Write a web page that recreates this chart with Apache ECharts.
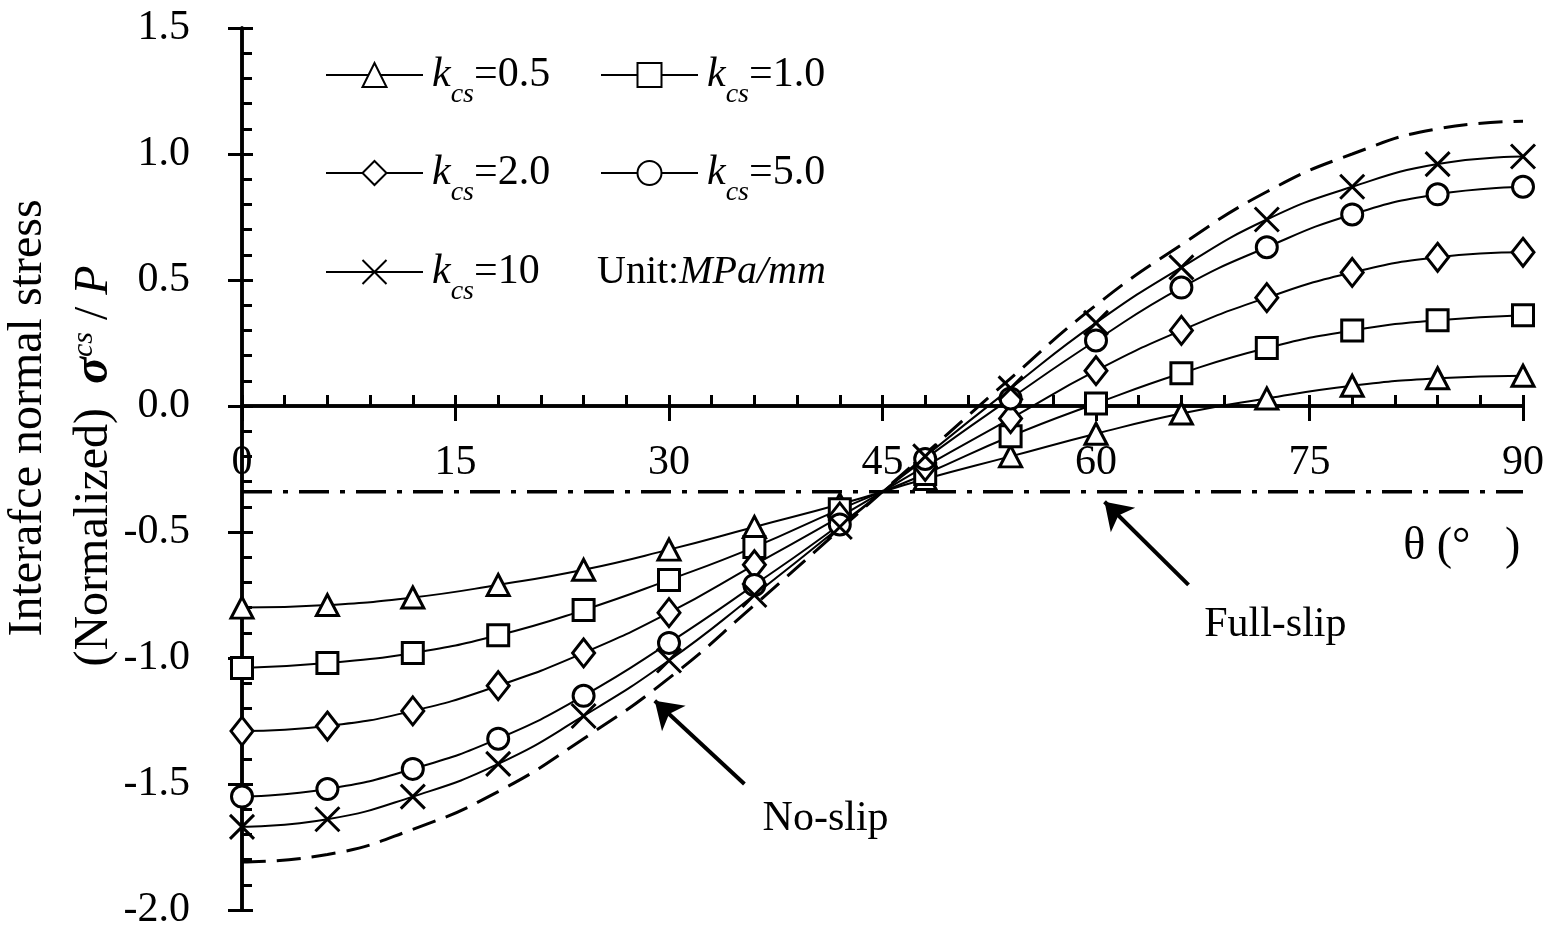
<!DOCTYPE html>
<html>
<head>
    <meta charset="utf-8">
    <title>Interface normal stress</title>
    <script src="https://cdn.jsdelivr.net/npm/echarts@6/dist/echarts.min.js"></script>
    <style>
        html, body { margin: 0; padding: 0; background: #fff; }
        #chart1 { width: 1565px; height: 947px; }
    </style>
</head>
<body>
<div id="chart1"></div>
<script>
    // 数据
    var theta = [0, 6, 12, 18, 24, 30, 36, 42, 48, 54, 60, 66, 72, 78, 84, 90];
    var k05  = [-0.80, -0.79, -0.76, -0.71, -0.65, -0.57, -0.48, -0.39, -0.29, -0.20, -0.11, -0.03, 0.03, 0.08, 0.11, 0.12];
    var k10  = [-1.04, -1.02, -0.98, -0.91, -0.81, -0.69, -0.56, -0.41, -0.27, -0.12, 0.01, 0.13, 0.23, 0.30, 0.34, 0.36];
    var k20  = [-1.29, -1.27, -1.21, -1.11, -0.98, -0.82, -0.63, -0.44, -0.24, -0.05, 0.14, 0.30, 0.43, 0.53, 0.59, 0.61];
    var k50  = [-1.55, -1.52, -1.44, -1.32, -1.15, -0.94, -0.71, -0.47, -0.21, 0.03, 0.26, 0.47, 0.63, 0.76, 0.84, 0.87];
    var k100 = [-1.67, -1.64, -1.55, -1.42, -1.23, -1.01, -0.75, -0.48, -0.20, 0.07, 0.33, 0.55, 0.74, 0.87, 0.96, 0.99];
    var noSlip = [-1.81, -1.78, -1.68, -1.53, -1.32, -1.08, -0.79, -0.49, -0.19, 0.11, 0.40, 0.64, 0.85, 1.00, 1.10, 1.13];
    var fullSlipTheta = [0, 90];
    var fullSlip = [-0.34, -0.34];
    var kNames = ['0.5', '1.0', '2.0', '5.0', '10'];
    var xTicks = [0, 15, 30, 45, 60, 75, 90];
    var yTicks = [-2.0, -1.5, -1.0, -0.5, 0.0, 0.5, 1.0, 1.5];

    var FONT = "'Liberation Serif', 'Times New Roman', serif";
    var crossPath = 'path://M0,0L10,10M10,0L0,10';
    var GRID_H = 947 - 28 - 37;
    // distance from bottom edge of grid up to y = 0
    var zeroOffset = GRID_H * (0 - yTicks[0]) / (yTicks[yTicks.length - 1] - yTicks[0]);

    function pairs(xs, ys) {
        return xs.map(function (x, i) { return [x, ys[i]]; });
    }

    var symbols = [
        {symbol: 'triangle', size: [22, 21]},
        {symbol: 'rect', size: 21},
        {symbol: 'diamond', size: [22, 28]},
        {symbol: 'circle', size: 21},
        {symbol: crossPath, size: 24}
    ];
    var kData = [k05, k10, k20, k50, k100];

    var series = kData.map(function (d, i) {
        return {
            name: 'k' + kNames[i],
            type: 'line',
            data: pairs(theta, d),
            smooth: true,
            symbol: symbols[i].symbol,
            symbolSize: symbols[i].size,
            showAllSymbol: true,
            z: 5,
            lineStyle: {color: '#000', width: 2},
            itemStyle: {color: i === 4 ? 'none' : '#fff', borderColor: '#000', borderWidth: 3}
        };
    });

    series.push({
        name: 'noSlip',
        type: 'line',
        data: pairs(theta, noSlip),
        smooth: true,
        showSymbol: false,
        z: 3,
        lineStyle: {color: '#000', width: 3, type: [24, 11]},
        markLine: {
            silent: true,
            symbol: ['none', 'arrow'],
            symbolSize: 26,
            label: {show: false},
            lineStyle: {color: '#000', width: 4, type: 'solid'},
            data: [
                [{coord: [35.3, -1.50]}, {coord: [29.0, -1.17]}],
                [{coord: [66.5, -0.71]}, {coord: [60.6, -0.38]}]
            ]
        },
        markPoint: {
            silent: true,
            symbol: 'circle',
            symbolSize: 1,
            itemStyle: {color: 'rgba(0,0,0,0)'},
            label: {show: true, position: 'inside', color: '#000', fontFamily: FONT, fontSize: 42,
                formatter: function (p) { return p.name; }},
            data: [
                {name: 'No-slip', coord: [41.0, -1.64]},
                {name: 'Full-slip', coord: [72.6, -0.87]},
                {name: 'θ (°   )', coord: [85.7, -0.56], label: {fontSize: 46}}
            ]
        }
    });

    series.push({
        name: 'fullSlip',
        type: 'line',
        data: pairs(fullSlipTheta, fullSlip),
        showSymbol: false,
        z: 3,
        lineStyle: {color: '#000', width: 3.5, type: [30, 11, 5, 11]}
    });

    var legendRich = {
        k: {fontFamily: FONT, fontStyle: 'italic', fontSize: 42, color: '#000'},
        s: {fontFamily: FONT, fontStyle: 'italic', fontSize: 28, color: '#000', verticalAlign: 'bottom', padding: [0, 0, -12, 0]},
        n: {fontFamily: FONT, fontSize: 42, color: '#000'}
    };
    var legendPos = [[325, 75], [600, 75], [325, 173], [600, 173], [325, 272]];
    var legends = legendPos.map(function (p, i) {
        return {
            data: ['k' + kNames[i]],
            left: p[0],
            top: p[1] - 22,
            itemWidth: 97,
            itemHeight: 30,
            padding: 0,
            selectedMode: false,
            formatter: function (name) { return '{k|k}{s|cs}{n|=' + name.slice(1) + '}'; },
            textStyle: {padding: [0, 0, 0, 4], lineHeight: 44, rich: legendRich}
        };
    });

    var chart = echarts.init(document.getElementById('chart1'));
    chart.setOption({
        animation: false,
        backgroundColor: '#fff',
        grid: {left: 242, right: 42, top: 28, bottom: 37, containLabel: false, outerBoundsMode: 'none'},
        legend: legends,
        xAxis: [{
            // labelled axis, shifted up onto y = 0
            type: 'value', position: 'bottom', offset: -zeroOffset,
            min: xTicks[0], max: xTicks[xTicks.length - 1], interval: 15,
            axisLine: {onZero: false, lineStyle: {color: '#000', width: 3.5}},
            axisTick: {show: true, inside: false, length: 15, lineStyle: {color: '#000', width: 3}},
            axisLabel: {color: '#000', fontFamily: FONT, fontSize: 42, margin: 36, hideOverlap: false},
            splitLine: {show: false}
        }, {
            type: 'value', position: 'bottom', min: xTicks[0], max: xTicks[xTicks.length - 1], interval: 15,
            axisLine: {onZero: true, onZeroAxisIndex: 1, lineStyle: {color: '#000', width: 3.5}},
            axisTick: {show: true, inside: true, length: 11, lineStyle: {color: '#000', width: 3}},
            minorTick: {show: true, splitNumber: 5, length: 11, lineStyle: {color: '#000', width: 3}},
            axisLabel: {show: false},
            splitLine: {show: false}
        }],
        yAxis: [{
            type: 'value', position: 'left', min: yTicks[0], max: yTicks[yTicks.length - 1], interval: 0.5,
            axisLine: {onZero: false, lineStyle: {color: '#000', width: 3.5}},
            axisTick: {show: true, inside: false, length: 14, lineStyle: {color: '#000', width: 3}},
            axisLabel: {color: '#000', fontFamily: FONT, fontSize: 42, margin: 52,
                formatter: function (v) { return v.toFixed(1); }},
            splitLine: {show: false}
        }, {
            type: 'value', position: 'left', min: yTicks[0], max: yTicks[yTicks.length - 1], interval: 0.5,
            axisLine: {onZero: false, lineStyle: {color: '#000', width: 3.5}},
            axisTick: {show: true, inside: true, length: 11, lineStyle: {color: '#000', width: 3}},
            minorTick: {show: true, splitNumber: 5, length: 10, lineStyle: {color: '#000', width: 3}},
            axisLabel: {show: false},
            splitLine: {show: false}
        }],
        graphic: [{
            type: 'text', x: 28, y: 418, rotation: Math.PI / 2,
            style: {text: 'Interafce normal stress', fontFamily: FONT, fontSize: 48, fill: '#000',
                align: 'center', verticalAlign: 'middle'}
        }, {
            type: 'text', x: 94, y: 466, rotation: Math.PI / 2,
            style: {
                text: '{n|(Normalized)  }{g|σ}{u|cs}{n| / }{p|P}',
                align: 'center', verticalAlign: 'middle',
                rich: {
                    n: {fontFamily: FONT, fontSize: 48, fill: '#000'},
                    g: {fontFamily: FONT, fontSize: 50, fontStyle: 'italic', fontWeight: 'bold', fill: '#000'},
                    u: {fontFamily: FONT, fontSize: 30, fontStyle: 'italic', fill: '#000', verticalAlign: 'top', padding: [0, 0, 18, 0]},
                    p: {fontFamily: FONT, fontSize: 48, fontStyle: 'italic', fill: '#000'}
                }
            }
        }, {
            type: 'text', x: 597, y: 272,
            style: {
                text: '{n|Unit:}{i|MPa/mm}',
                verticalAlign: 'middle',
                rich: {
                    n: {fontFamily: FONT, fontSize: 40, fill: '#000'},
                    i: {fontFamily: FONT, fontSize: 40, fontStyle: 'italic', fill: '#000'}
                }
            }
        }],
        series: series
    });
</script>
</body>
</html>
